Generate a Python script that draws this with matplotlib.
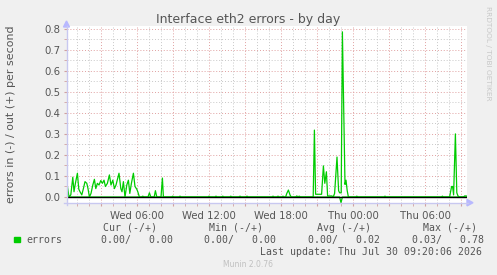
import matplotlib
matplotlib.use('Agg')
import matplotlib.pyplot as plt
from matplotlib.lines import Line2D
from matplotlib.patches import Polygon, Rectangle

# dados (minutos desde Qua 00:00, valores em erros/s)
out_min = [10, 19, 28, 38, 44, 51, 61, 68, 74, 83, 91, 99, 108, 114, 121, 129, 138, 146,
           153, 161, 169, 178, 186, 194, 201, 211, 221, 229, 238, 246, 254, 263, 269, 278,
           284, 291, 299, 308, 316, 323, 331, 341, 349, 358, 363, 371, 382, 388, 394, 414,
           421, 428, 445, 451, 458, 479, 486, 491,
           533, 538, 543, 569, 574, 579, 714, 719, 724, 749, 754, 759, 783, 788, 793,
           823, 828, 833, 869, 874, 879, 904, 909, 914, 1034, 1039, 1044, 1059, 1064, 1069,
           1084, 1089, 1094,
           1102, 1108, 1116, 1124, 1130, 1152, 1158, 1164, 1170, 1176,
           1240, 1246, 1252, 1282, 1291, 1298, 1306, 1312, 1334, 1340, 1347, 1359, 1367,
           1372, 1380, 1386, 1399, 1404, 1410, 1416,
           1453, 1458, 1463, 1594, 1599, 1604, 1881, 1886, 1891,
           1922, 1932, 1937, 1942, 1951, 1958, 1964, 1970, 1992, 1997, 2004, 2009]
out_val = [0.057, 0.0, 0.01, 0.094, 0.025, 0.065, 0.113, 0.037, 0.025, 0.01, 0.04, 0.073,
           0.065, 0.04, 0.0, 0.017, 0.057, 0.084, 0.04, 0.065, 0.057, 0.078, 0.065, 0.08,
           0.05, 0.065, 0.105, 0.057, 0.08, 0.04, 0.057, 0.09, 0.113, 0.04, 0.025, 0.073,
           0.0, 0.057, 0.08, 0.017, 0.065, 0.113, 0.05, 0.037, 0.025, 0.0, 0.0, 0.004, 0.0,
           0.0, 0.02, 0.0, 0.0, 0.03, 0.0, 0.0, 0.09, 0.0,
           0.0, 0.004, 0.0, 0.0, 0.004, 0.0, 0.0, 0.004, 0.0, 0.0, 0.004, 0.0, 0.0, 0.004, 0.0,
           0.0, 0.004, 0.0, 0.0, 0.004, 0.0, 0.0, 0.004, 0.0, 0.0, 0.004, 0.0, 0.0, 0.004, 0.0,
           0.0, 0.004, 0.0,
           0.0, 0.017, 0.033, 0.01, 0.0, 0.0, 0.005, 0.0, 0.004, 0.0,
           0.0, 0.318, 0.013, 0.013, 0.148, 0.065, 0.12, 0.005, 0.005, 0.0, 0.017, 0.19, 0.03,
           0.02, 0.02, 0.785, 0.06, 0.08, 0.03, 0.0,
           0.0, 0.004, 0.0, 0.0, 0.004, 0.0, 0.0, 0.004, 0.0,
           0.0, 0.05, 0.05, 0.01, 0.30, 0.02, 0.005, 0.0, 0.0, 0.005, 0.005, 0.004]

in_min = [9, 1372, 1379, 1386, 2009]
in_val = [0.0, 0.0, -0.027, 0.0, 0.0]

tick_min = [360, 720, 1080, 1440, 1800]
tick_lbl = ['Wed 06:00', 'Wed 12:00', 'Wed 18:00', 'Thu 00:00', 'Thu 06:00']

W, H = 497, 275
def fx(x): return x / W
def fy(y): return 1 - y / H

fig = plt.figure(figsize=(W / 100, H / 100), dpi=100, facecolor='#F0F0F0')
ax = fig.add_axes([fx(67), fy(203), 400 / W, 177 / H])
ax.set_facecolor('white')
ax.set_xlim(9, 2009)
ax.set_ylim(-0.0285, 0.8128)

# grade
ax.set_yticks([i / 10 for i in range(9)])
ax.set_yticks([i / 20 for i in range(17)], minor=True)
ax.set_xticks(list(range(180, 2009, 180)))
ax.set_xticklabels([tick_lbl[tick_min.index(t)] if t in tick_min else '' for t in range(180, 2009, 180)])
ax.set_xticks(list(range(60, 2009, 60)), minor=True)
ax.grid(which='minor', color='#C8C8C8', linestyle=(0, (1, 2)), linewidth=0.7)
ax.grid(which='major', color='#E0A0A0', linestyle=(0, (1, 2)), linewidth=0.7)
ax.set_axisbelow(True)
ax.tick_params(which='both', length=2, color='#D0A0A0', labelsize=7.3, labelcolor='#555555', pad=3)
ax.tick_params(axis='x', which='both', pad=4)
for s in ax.spines.values():
    s.set_visible(False)

ax.plot(in_min, in_val, color='#00CC00', linewidth=0.9, zorder=3)
ax.plot(out_min, out_val, color='#00CC00', linewidth=0.9, zorder=3)
ax.axhline(0, color='black', linewidth=1.0, zorder=4)

# eixos com setas
ax_col = '#C8C8F0'
fig.add_artist(Line2D([fx(66.5), fx(66.5)], [fy(205), fy(26)], color=ax_col, linewidth=1))
fig.add_artist(Line2D([fx(64), fx(468)], [fy(202.7), fy(202.7)], color=ax_col, linewidth=1))
fig.add_artist(Polygon([[fx(66.5), fy(21)], [fx(63.5), fy(27)], [fx(69.5), fy(27)]],
                       closed=True, color='#B8B8FF', transform=fig.transFigure))
fig.add_artist(Polygon([[fx(473), fy(202.7)], [fx(467), fy(199.5)], [fx(467), fy(205.9)]],
                       closed=True, color='#B8B8FF', transform=fig.transFigure))

fig.text(0.5, fy(19.3), 'Interface eth2 errors - by day', ha='center', va='center',
         fontsize=9, color='#555555')
fig.text(fx(11), fy(114), 'errors in (-) / out (+) per second', rotation=90,
         ha='center', va='center', fontsize=7.9, color='#555555')
fig.text(fx(488), fy(53), 'RRDTOOL / TOBI OETIKER', rotation=270, ha='center', va='center',
         fontsize=5.3, color='#C8C8C8')

# legenda
mono = dict(family='DejaVu Sans Mono', fontsize=7.1, color='#555555', va='center')
for x, t in zip([103.3, 209.3, 316.7, 423.3], ['Cur (-/+)', 'Min (-/+)', 'Avg (-/+)', 'Max (-/+)']):
    fig.text(fx(x), fy(227.7), t, ha='left', **mono)
fig.add_artist(Rectangle((fx(14), fy(242.3)), 5.5 / W, 5.5 / H, color='#00CC00',
                         transform=fig.transFigure))
fig.text(fx(26.7), fy(239.7), 'errors', ha='left', **mono)
for x, t in zip([100.7, 204, 308.3, 411.7], ['0.00/   0.00', '0.00/   0.00', '0.00/   0.02', '0.03/   0.78']):
    fig.text(fx(x), fy(239.7), t, ha='left', **mono)
fig.text(fx(482.5), fy(251.7), 'Last update: Thu Jul 30 09:20:06 2026', ha='right', **mono)
fig.text(fx(248), fy(264.5), 'Munin 2.0.76', ha='center', va='center', fontsize=5.5, color='#C0C0C0')

fig.savefig('out.png', dpi=100, facecolor=fig.get_facecolor())
